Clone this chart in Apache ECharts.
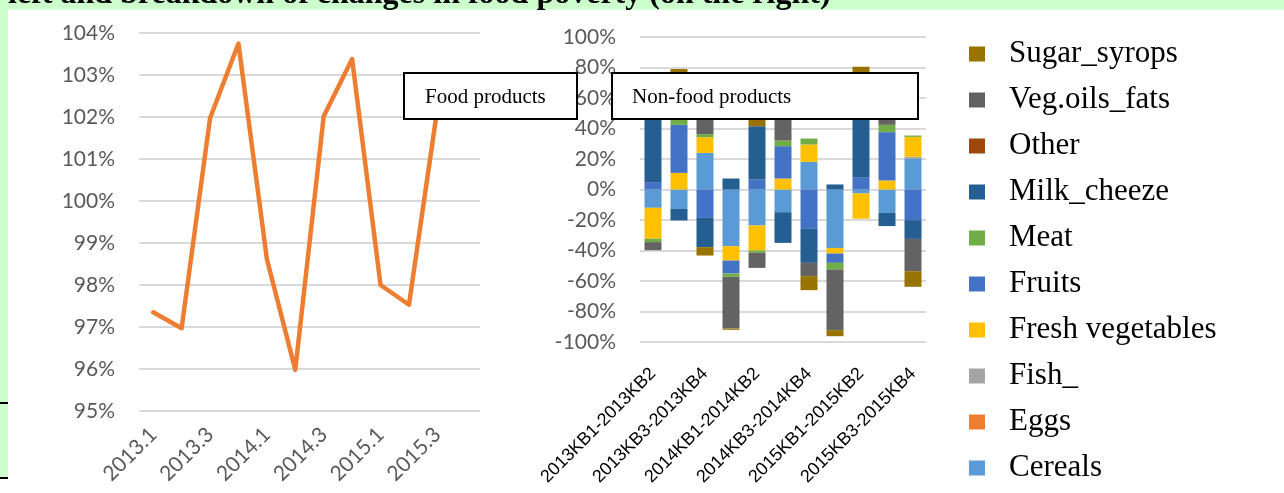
<!DOCTYPE html>
<html>
<head>
<meta charset="utf-8">
<script src="https://cdn.jsdelivr.net/npm/echarts@6/dist/echarts.min.js"></script>
<style>
  html, body { margin: 0; padding: 0; background: #fff; }
  #chart { width: 1284px; height: 493px; }
</style>
</head>
<body>
<div id="chart"></div>
<script>
// Quarterly food price index (left panel)
const quarters = ['2013.1', '2013.2', '2013.3', '2013.4', '2014.1', '2014.2', '2014.3', '2014.4', '2015.1', '2015.2', '2015.3', '2015.4'];
const foodIndex = [97.35, 96.97, 101.97, 103.75, 98.62, 95.98, 102.02, 103.38, 98.0, 97.53, 102.2, 102.8];
const lineTicks = { min: 95, max: 104, step: 1 };

// Breakdown of half-year changes by product group (right panel), in %
const periods = ['2013KB1-2013KB2', '2013KB2-2013KB3', '2013KB3-2013KB4', '2013KB4-2014KB1', '2014KB1-2014KB2', '2014KB2-2014KB3', '2014KB3-2014KB4', '2014KB4-2015KB1', '2015KB1-2015KB2', '2015KB2-2015KB3', '2015KB3-2015KB4'];
const cereals      = [-12.0, -12.7, 24.0, -37.2, -23.6, -14.9, 18.1, -38.3, -2.6, -15.3, 20.0];
const eggs         = [0, 0, 0, 0, 0, 0, 0, 0, 0, 0, 0];
const fish         = [0, 0, 0, 0, 0, 0, 0, 0, 0, 0, 1.5];
const freshVeg     = [-20.3, 10.9, 10.3, -9.4, -16.4, 7.2, 11.4, -3.7, -16.6, 5.9, 13.0];
const fruits       = [4.8, 31.5, -18.6, -8.5, 6.6, 21.2, -25.8, -6.1, 8.1, 31.7, -20.1];
const meat         = [-2.2, 3.9, 2.0, -2.2, -1.5, 3.7, 3.9, -4.4, 0, 4.8, 0.9];
const milkCheeze   = [57.0, -7.6, -19.2, 7.2, 34.9, -20.1, -22.3, 3.3, 64.9, -8.7, -12.3];
const other        = [0, 0, 0, 0, 0, 0, 0, 0, 0, 0, 0];
const vegOilsFats  = [-5.3, 27.7, 13.7, -33.9, -9.9, 17.9, -8.7, -39.7, 0, 7.6, -21.2];
const sugarSyrops  = [0, 5.0, -5.5, -0.8, 6.5, 0, -9.2, -4.0, 7.5, 0, -10.2];
const barTicks = { min: -100, max: 100, step: 20 };

// stacking order, bottom to top
const groups = [
  { name: 'Cereals', data: cereals, color: '#5B9BD5' },
  { name: 'Eggs', data: eggs, color: '#ED7D31' },
  { name: 'Fish_', data: fish, color: '#A5A5A5' },
  { name: 'Fresh vegetables', data: freshVeg, color: '#FFC000' },
  { name: 'Fruits', data: fruits, color: '#4472C4' },
  { name: 'Meat', data: meat, color: '#70AD47' },
  { name: 'Milk_cheeze', data: milkCheeze, color: '#255E91' },
  { name: 'Other', data: other, color: '#9E480E' },
  { name: 'Veg.oils_fats', data: vegOilsFats, color: '#636363' },
  { name: 'Sugar_syrops', data: sugarSyrops, color: '#997300' }
];

const heading = 'left and breakdown of changes in food poverty (on the right)';
const boxLabels = ['Food products', 'Non-food products'];

const axisFont = 'Lato';
const tickColor = '#595959';
const gridColor = '#D9D9D9';

const chart = echarts.init(document.getElementById('chart'), null, { renderer: 'canvas' });

const barSeries = groups.map(g => ({
  name: g.name,
  type: 'bar',
  stack: 'breakdown',
  xAxisIndex: 1,
  yAxisIndex: 1,
  barWidth: 17,
  data: g.data,
  itemStyle: { color: g.color },
  emphasis: { disabled: true }
}));

chart.setOption({
  animation: false,
  backgroundColor: '#fff',
  grid: [
    { left: 139, top: 33, width: 341, height: 378 },
    { left: 640, top: 37, width: 286, height: 305 }
  ],
  xAxis: [
    {
      gridIndex: 0, type: 'category', data: quarters, boundaryGap: true,
      axisLine: { show: false }, axisTick: { show: false },
      axisLabel: { interval: 1, rotate: 45, margin: 20, color: tickColor, fontFamily: axisFont, fontSize: 21 }
    },
    {
      gridIndex: 1, type: 'category', data: periods, boundaryGap: true,
      axisLine: { show: false, onZero: false }, axisTick: { show: false },
      axisLabel: { interval: 1, rotate: 45, margin: 29, color: '#000', fontFamily: 'Liberation Sans', fontSize: 18 }
    }
  ],
  yAxis: [
    {
      gridIndex: 0, type: 'value', min: lineTicks.min, max: lineTicks.max, interval: lineTicks.step,
      axisLine: { show: false }, axisTick: { show: false },
      axisLabel: { formatter: '{value}%', margin: 24, color: tickColor, fontFamily: axisFont, fontSize: 21 },
      splitLine: { lineStyle: { color: gridColor, width: 2 } }
    },
    {
      gridIndex: 1, type: 'value', min: barTicks.min, max: barTicks.max, interval: barTicks.step,
      axisLine: { show: false }, axisTick: { show: false },
      axisLabel: { formatter: '{value}%', margin: 24, color: tickColor, fontFamily: axisFont, fontSize: 21 },
      splitLine: { lineStyle: { color: gridColor, width: 2 } }
    }
  ],
  legend: {
    orient: 'vertical',
    left: 969,
    top: 37,
    padding: 0,
    itemWidth: 16,
    itemHeight: 15,
    itemGap: 12,
    icon: 'rect',
    data: groups.map(g => g.name).reverse(),
    textStyle: { fontFamily: 'Liberation Serif', fontSize: 31, lineHeight: 34, color: '#000', padding: [0, 0, 0, 19] }
  },
  series: [
    {
      name: 'Food price index',
      type: 'line',
      xAxisIndex: 0,
      yAxisIndex: 0,
      data: foodIndex,
      showSymbol: false,
      symbol: 'none',
      lineStyle: { color: '#ED7D31', width: 4.5, join: 'round', cap: 'round' },
      emphasis: { disabled: true }
    },
    ...barSeries
  ],
  graphic: [
    // page frame
    { type: 'rect', shape: { x: 0, y: 0, width: 1284, height: 9.5 }, style: { fill: '#CCFFCC' }, z: 90 },
    { type: 'rect', shape: { x: 0, y: 0, width: 8, height: 478 }, style: { fill: '#CCFFCC' }, z: 90 },
    { type: 'rect', shape: { x: 0, y: 402, width: 8, height: 2 }, style: { fill: '#000' }, z: 91 },
    { type: 'rect', shape: { x: 0, y: 477, width: 8, height: 2 }, style: { fill: '#000' }, z: 91 },
    {
      type: 'text', x: 8, y: -5, z: 92,
      style: { text: heading, font: 'bold 32px "Liberation Serif"', fill: '#000', verticalAlign: 'middle', align: 'left' }
    },
    // caption boxes
    { type: 'rect', shape: { x: 404, y: 73, width: 173, height: 46 }, style: { fill: '#fff', stroke: '#000', lineWidth: 2 }, z: 100 },
    {
      type: 'text', x: 425, y: 97, z: 101,
      style: { text: boxLabels[0], font: '21px "Liberation Serif"', fill: '#000', verticalAlign: 'middle' }
    },
    { type: 'rect', shape: { x: 612, y: 73, width: 306, height: 46 }, style: { fill: '#fff', stroke: '#000', lineWidth: 2 }, z: 100 },
    {
      type: 'text', x: 632, y: 97, z: 101,
      style: { text: boxLabels[1], font: '21px "Liberation Serif"', fill: '#000', verticalAlign: 'middle' }
    }
  ]
});
</script>
</body>
</html>
